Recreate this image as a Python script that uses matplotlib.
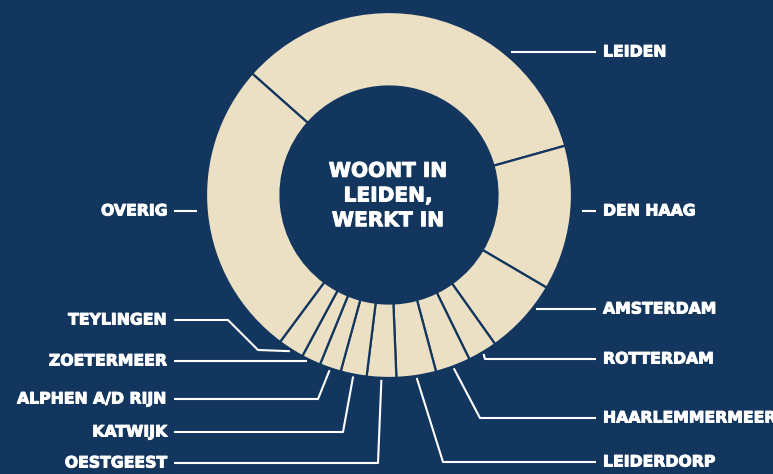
import numpy as np
import matplotlib.pyplot as plt
import matplotlib.patheffects as pe

# ----------------------------------
# data: waar werken mensen die in Leiden wonen (aandeel, %)
# ----------------------------------
places = ["LEIDEN", "DEN HAAG", "AMSTERDAM", "ROTTERDAM", "HAARLEMMERMEER",
          "LEIDERDORP", "OESTGEEST", "KATWIJK", "ALPHEN A/D RIJN",
          "ZOETERMEER", "TEYLINGEN", "OVERIG"]
shares = [34.1, 12.8, 6.7, 2.6, 3.1, 3.5, 2.6, 2.3, 1.9, 1.7, 2.3, 26.4]
center_text = "WOONT IN\nLEIDEN,\nWERKT IN"

# ----------------------------------
# layout (pixels, measured from the top)
# ----------------------------------
W, H = 773, 474
navy = "#13365f"
cream = "#ebe0c4"
cx, cy = 389, 195
R, r_in = 183, 108.5
start = 138.4

label_y = [52, 211, 309, 359, 418, 462, 463, 432, 399, 361, 320, 211]
on_right = [True] * 6 + [False] * 6
# horizontal leaders: gap between ring and line start
straight_gap = {"LEIDEN": 5, "DEN HAAG": 11, "AMSTERDAM": 3,
                "ZOETERMEER": 2, "OVERIG": 10}
# bent leaders: start at wedge middle, pass through these points
bends = {"ROTTERDAM": [(485, 359)], "HAARLEMMERMEER": [(480, 418)],
         "LEIDERDORP": [(443, 462)], "OESTGEEST": [(378, 463)],
         "KATWIJK": [(343, 432)], "ALPHEN A/D RIJN": [(318, 399)],
         "TEYLINGEN": [(258, 350), (228, 320)]}
bold = [pe.withStroke(linewidth=0.7, foreground="white")]

fig = plt.figure(figsize=(W / 100, H / 100), dpi=100, facecolor=navy)
ax = fig.add_axes([0, 0, 1, 1])
ax.set_facecolor(navy)

ax.pie(shares, radius=R, center=(cx, H - cy), startangle=start,
       counterclock=False, colors=[cream] * len(shares),
       wedgeprops=dict(width=R - r_in, edgecolor=navy, linewidth=1.6))

ax.set_xlim(0, W)
ax.set_ylim(0, H)
ax.set_aspect("equal")
ax.axis("off")

ax.text(cx - 1, H - cy - 1, center_text, ha="center", va="center",
        color="white", fontsize=14.5, fontweight="bold",
        family="DejaVu Sans", linespacing=1.38, path_effects=bold)

# leader lines + labels
cum = np.cumsum([0] + shares)
for i, name in enumerate(places):
    mid = start - (cum[i] + cum[i + 1]) / 2 * 3.6
    ly = label_y[i]
    end_x = 596 if on_right[i] else 174
    sign = 1 if on_right[i] else -1
    if name in straight_gap:
        dy = ly - cy
        x0 = cx + sign * np.sqrt((R + straight_gap[name]) ** 2 - dy ** 2)
        pts = [(x0, ly), (end_x, ly)]
    else:
        a = np.radians(mid)
        p0 = (cx + (R + 2) * np.cos(a), cy - (R + 2) * np.sin(a))
        pts = [p0] + bends[name] + [(end_x, ly)]
    xs = [p[0] for p in pts]
    ys = [H - p[1] for p in pts]
    ax.plot(xs, ys, color="white", lw=1.5, solid_capstyle="butt")
    tx = 603 if on_right[i] else 168
    ax.text(tx, H - ly, name, ha="left" if on_right[i] else "right",
            va="center", color="white", fontsize=11.3, fontweight="bold",
            family="DejaVu Sans", path_effects=bold)

fig.savefig("out.png", dpi=100, facecolor=navy)
